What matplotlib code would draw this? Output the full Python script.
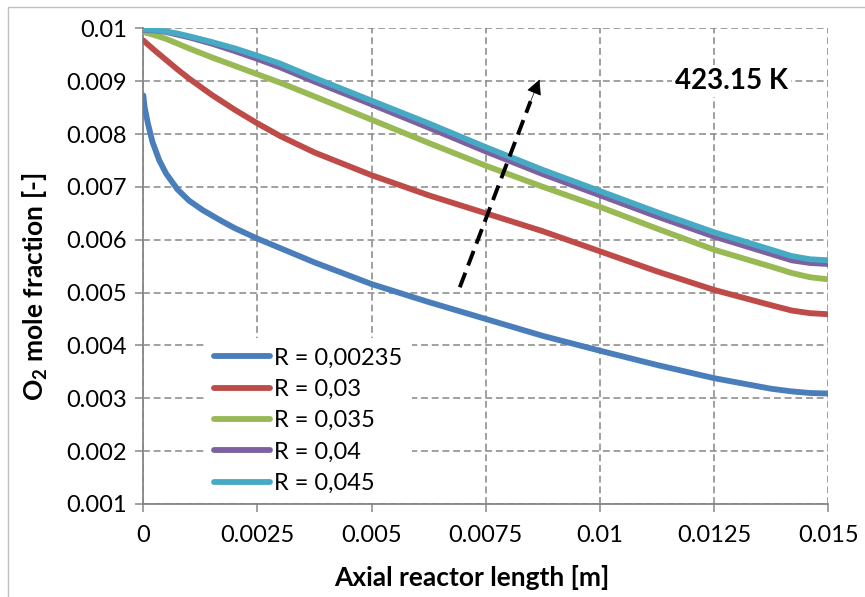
import matplotlib
matplotlib.use("Agg")
import matplotlib.pyplot as plt
from matplotlib.patches import Rectangle

plt.rcParams['font.family'] = ['Lato', 'DejaVu Sans']
plt.rcParams['mathtext.fontset'] = 'custom'
plt.rcParams['mathtext.rm'] = 'Lato'
plt.rcParams['mathtext.bf'] = 'Lato:bold'

# axial position [m]
x = [0, 0.00025, 0.0005, 0.00075, 0.001, 0.0015, 0.002, 0.0025, 0.003, 0.00375, 0.005,
     0.00625, 0.0075, 0.00875, 0.01, 0.01125, 0.0125, 0.01375, 0.0142, 0.0146, 0.015]
x_blue = [0, 0.00003, 0.0001, 0.0002, 0.00035, 0.0005, 0.00075, 0.001, 0.0013, 0.0017, 0.002,
          0.0025, 0.00375, 0.005, 0.00625, 0.0075, 0.00875, 0.01, 0.01125, 0.0125, 0.01375,
          0.0142, 0.0146, 0.015]

# O2 mole fraction for each R
r_00235 = [0.00873, 0.0085, 0.0082, 0.00785, 0.0075, 0.00725, 0.00695, 0.00674, 0.00656, 0.00636,
           0.00622, 0.00602, 0.00557, 0.00516, 0.00482, 0.0045, 0.00418, 0.0039, 0.00363, 0.00338,
           0.00318, 0.00313, 0.0031, 0.00309]
r_003 = [0.00977, 0.00958, 0.0094, 0.00922, 0.00905, 0.00874, 0.00846, 0.0082, 0.00796, 0.00765,
         0.00722, 0.00684, 0.0065, 0.00616, 0.00578, 0.0054, 0.00505, 0.00476, 0.00466, 0.00461,
         0.00459]
r_0035 = [0.00993, 0.00987, 0.0098, 0.00971, 0.00962, 0.00945, 0.00929, 0.00913, 0.00897, 0.00871,
          0.00827, 0.00783, 0.0074, 0.007, 0.00662, 0.00621, 0.00581, 0.00549, 0.00537, 0.00529,
          0.00525]
r_004 = [0.00997, 0.00996, 0.00993, 0.00988, 0.00983, 0.00971, 0.00957, 0.00942, 0.00926, 0.00899,
         0.00856, 0.00812, 0.00767, 0.00724, 0.00684, 0.00644, 0.00606, 0.00573, 0.00561, 0.00556,
         0.00554]
r_0045 = [0.00998, 0.00997, 0.00994, 0.0099, 0.00985, 0.00974, 0.00962, 0.00948, 0.00933, 0.00906,
          0.00863, 0.0082, 0.00775, 0.00732, 0.00692, 0.00652, 0.00614, 0.00581, 0.00569, 0.00563,
          0.00561]

labels = ["R = 0,00235", "R = 0,03", "R = 0,035", "R = 0,04", "R = 0,045"]
colors = ["#4A7EBB", "#BE4B48", "#98B954", "#7D60A0", "#46AAC5"]

xticks = [0, 0.0025, 0.005, 0.0075, 0.01, 0.0125, 0.015]
xticklabels = ["0", "0.0025", "0.005", "0.0075", "0.01", "0.0125", "0.015"]
yticks = [0.001, 0.002, 0.003, 0.004, 0.005, 0.006, 0.007, 0.008, 0.009, 0.01]
yticklabels = ["0.001", "0.002", "0.003", "0.004", "0.005", "0.006", "0.007", "0.008", "0.009", "0.01"]

fig = plt.figure(figsize=(8.65, 5.97), dpi=100)
ax = fig.add_axes([0.1657, 0.1558, 0.7919, 0.7968])

series = [(x_blue, r_00235), (x, r_003), (x, r_0035), (x, r_004), (x, r_0045)]
for (xs, ys), lab, c in zip(series, labels, colors):
	ax.plot(xs, ys, color=c, lw=4.2, label=lab, solid_capstyle='round', zorder=3)

ax.set_xlim(0, 0.015)
ax.set_ylim(0.001, 0.01)
ax.set_xticks(xticks)
ax.set_xticklabels(xticklabels)
ax.set_yticks(yticks)
ax.set_yticklabels(yticklabels)
ax.tick_params(axis='both', labelsize=17, length=6, width=1.1, color='#868686')
ax.tick_params(axis='x', pad=9)
ax.tick_params(axis='y', pad=6)

ax.grid(True, color='#868686', lw=1.1, ls=(0, (4.5, 2.5)), zorder=1)
ax.set_axisbelow(True)
for s in ['top', 'right']:
	ax.spines[s].set_visible(False)
for s in ['left', 'bottom']:
	ax.spines[s].set_color('#868686')
	ax.spines[s].set_linewidth(1.3)

fig.text(472 / 865, 1 - 578 / 597, "Axial reactor length [m]", fontsize=19, fontweight='bold',
	ha='center', va='center')
fig.text(35 / 865, 1 - 287 / 597, r"O$_\mathbf{2}$ mole fraction [-]", fontsize=19, fontweight='bold',
	ha='center', va='center', rotation=90)

leg = ax.legend(loc='upper left', bbox_to_anchor=(0.0895, 0.349), fontsize=17, frameon=True,
	handlelength=2.37, handletextpad=0.17, labelspacing=0.44, borderpad=0.4, borderaxespad=0)
leg.get_frame().set_facecolor('white')
leg.get_frame().set_edgecolor('none')
leg.get_frame().set_alpha(1)

# dashed arrow
ax.plot([0.00693, 0.00848], [0.0051, 0.00862], color='black', lw=2.8, ls=(0, (4, 2)), zorder=4)
ax.annotate('', xy=(0.0087, 0.00908), xytext=(0.0084, 0.00845),
	arrowprops=dict(arrowstyle='-|>', color='black', lw=0.5, mutation_scale=24), zorder=4)

ax.text(0.01288, 0.009, "423.15 K", fontsize=20, fontweight='bold', ha='center', va='center',
	bbox=dict(facecolor='white', edgecolor='none', pad=2), zorder=5)

fig.patches.append(Rectangle((8 / 865, -0.1), 1.2, 1 - 7 / 597 + 0.1, transform=fig.transFigure,
	facecolor='none', edgecolor='#c0c0c0', lw=1.0))

fig.savefig("out.png", dpi=100)
